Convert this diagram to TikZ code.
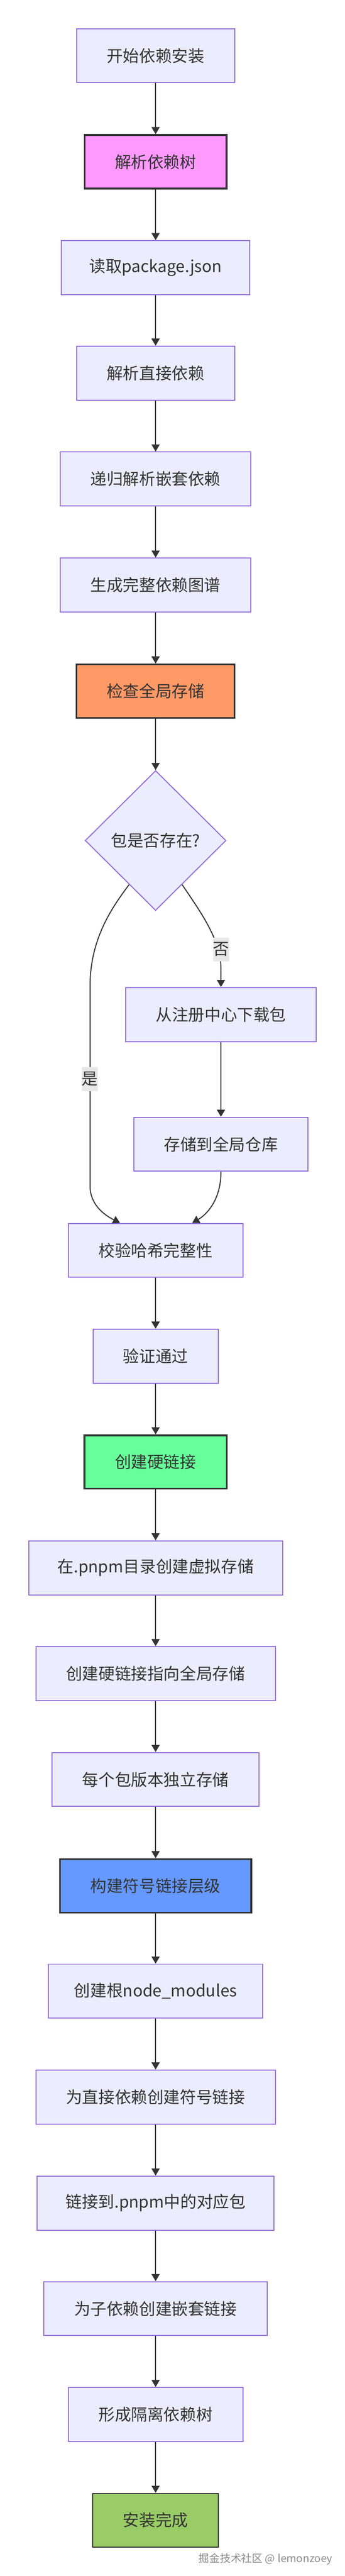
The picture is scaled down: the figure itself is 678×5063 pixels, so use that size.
\documentclass[tikz,border=0pt]{standalone}
\usepackage{fontspec}
\setmainfont{Noto Sans CJK SC}
\usepackage{xcolor}
\usetikzlibrary{shapes,arrows,calc,arrows.meta}

\definecolor{boxfill}{HTML}{ECECFF}
\definecolor{boxline}{HTML}{9370DB}
\definecolor{ink}{HTML}{333333}
\definecolor{parsefill}{HTML}{FF99FF}
\definecolor{storefill}{HTML}{FF9966}
\definecolor{hardfill}{HTML}{66FF99}
\definecolor{symfill}{HTML}{6699FF}
\definecolor{donefill}{HTML}{99CC66}
\definecolor{lblfill}{HTML}{E8E8E8}
\definecolor{marktext}{HTML}{8C8C8C}

\begin{document}
\begin{tikzpicture}[x=1pt,y=1pt,
    proc/.style={draw=boxline, fill=boxfill, line width=2pt, text=ink, minimum height=106pt, inner sep=0pt, font=\fontsize{32}{38}\selectfont},
    keyproc/.style={proc, draw=ink, line width=3.5pt, minimum height=105pt},
    decide/.style={diamond, draw=boxline, fill=boxfill, line width=2pt, text=ink, minimum width=277pt, minimum height=275pt, inner sep=0pt, font=\fontsize{32}{38}\selectfont},
    edgelbl/.style={fill=lblfill, text=ink, inner sep=0pt, minimum width=32pt, minimum height=47pt, font=\fontsize{32}{38}\selectfont},
    flow/.style={draw=ink, line width=2pt, -{Triangle[width=16pt,length=14pt]}}]
    \useasboundingbox (0,0) rectangle (678,-5063);

    \node[proc, minimum width=311pt] (begin) at (306,-109.5) {开始依赖安装};
    \node[keyproc, fill=parsefill, minimum width=279pt] (parsetree) at (306,-318) {解析依赖树};
    \node[proc, minimum width=371pt] (readpkg) at (306,-526) {读取package.json};
    \node[proc, minimum width=311pt] (directdeps) at (306,-733.5) {解析直接依赖};
    \node[proc, minimum width=375pt] (nesteddeps) at (306,-941.5) {递归解析嵌套依赖};
    \node[proc, minimum width=375pt] (depgraph) at (306,-1150) {生成完整依赖图谱};
    \node[keyproc, fill=storefill, minimum width=311pt] (checkstore) at (306,-1358.5) {检查全局存储};
    \node[decide] (exists) at (306,-1652) {包是否存在?};
    \node[proc, minimum width=375pt] (download) at (434.5,-1994) {从注册中心下载包};
    \node[proc, minimum width=343pt] (savestore) at (434.5,-2249) {存储到全局仓库};
    \node[proc, minimum width=343pt] (hashcheck) at (306,-2457.5) {校验哈希完整性};
    \node[proc, minimum width=246pt] (verified) at (306,-2665.5) {验证通过};
    \node[keyproc, fill=hardfill, minimum width=280pt] (hardlink) at (306,-2873.5) {创建硬链接};
    \node[proc, minimum width=499pt] (virtstore) at (306,-3081.5) {在.pnpm目录创建虚拟存储};
    \node[proc, minimum width=471pt] (linkstore) at (306,-3289.5) {创建硬链接指向全局存储};
    \node[proc, minimum width=407pt] (perversion) at (306,-3497.5) {每个包版本独立存储};
    \node[keyproc, fill=symfill, minimum width=376pt] (symlayer) at (306,-3706.5) {构建符号链接层级};
    \node[proc, minimum width=421pt] (rootmods) at (306,-3913.5) {创建根node\_modules};
    \node[proc, minimum width=471pt] (directlinks) at (306,-4121.5) {为直接依赖创建符号链接};
    \node[proc, minimum width=466pt] (pnpmlink) at (306,-4330) {链接到.pnpm中的对应包};
    \node[proc, minimum width=439pt] (nestedlinks) at (306,-4537.5) {为子依赖创建嵌套链接};
    \node[proc, minimum width=343pt] (isotree) at (306,-4745.5) {形成隔离依赖树};
    \node[proc, draw=ink, fill=donefill, minimum width=247pt] (done) at (306,-4953.5) {安装完成};

    \draw[flow] (begin) -- (parsetree);
    \draw[flow] (parsetree) -- (readpkg);
    \draw[flow] (readpkg) -- (directdeps);
    \draw[flow] (directdeps) -- (nesteddeps);
    \draw[flow] (nesteddeps) -- (depgraph);
    \draw[flow] (depgraph) -- (checkstore);
    \draw[flow] (checkstore) -- (exists);
    \draw[flow] (exists.239) .. controls (215,-1790) and (177,-1850) .. (177,-1940) -- (177,-2330) .. controls (177,-2368) and (205,-2388) .. ([xshift=-70pt]hashcheck.north);
    \draw[flow] (exists.301) .. controls (400,-1800) and (434.5,-1850) .. (434.5,-1905) -- (download);
    \draw[flow] (download) -- (savestore);
    \draw[flow] (savestore.south) .. controls (434.5,-2360) and (405,-2388) .. ([xshift=72pt]hashcheck.north);
    \draw[flow] (hashcheck) -- (verified);
    \draw[flow] (verified) -- (hardlink);
    \draw[flow] (hardlink) -- (virtstore);
    \draw[flow] (virtstore) -- (linkstore);
    \draw[flow] (linkstore) -- (perversion);
    \draw[flow] (perversion) -- (symlayer);
    \draw[flow] (symlayer) -- (rootmods);
    \draw[flow] (rootmods) -- (directlinks);
    \draw[flow] (directlinks) -- (pnpmlink);
    \draw[flow] (pnpmlink) -- (nestedlinks);
    \draw[flow] (nestedlinks) -- (isotree);
    \draw[flow] (isotree) -- (done);

    \node[edgelbl] (nolbl) at (435,-1866) {否};
    \node[edgelbl] (yeslbl) at (176.5,-2121) {是};

    \node[anchor=east, text=marktext, inner sep=0pt, font=\fontsize{21}{25}\selectfont] (mark) at (654,-5030) {掘金技术社区 @ lemonzoey};
\end{tikzpicture}
\end{document}
